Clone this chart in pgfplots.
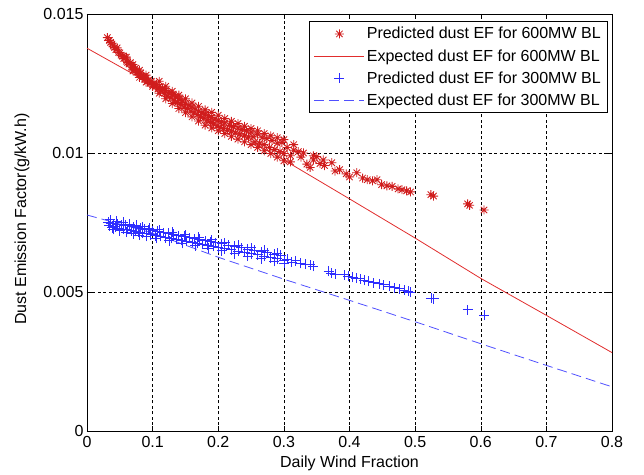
\documentclass[border=0pt]{standalone}
\usepackage{fontspec}
\setmainfont{Liberation Sans}
\usepackage{pgfplots}
\pgfplotsset{compat=1.18}
\definecolor{rstar}{RGB}{208,28,28}
\definecolor{rline}{RGB}{225,45,45}
\definecolor{bplus}{RGB}{45,45,255}
\definecolor{bline}{RGB}{80,80,255}
\pgfdeclareplotmark{mstar}{%
  \pgfpathmoveto{\pgfqpoint{-\pgfplotmarksize}{0pt}}\pgfpathlineto{\pgfqpoint{\pgfplotmarksize}{0pt}}%
  \pgfpathmoveto{\pgfqpoint{0pt}{-\pgfplotmarksize}}\pgfpathlineto{\pgfqpoint{0pt}{\pgfplotmarksize}}%
  \pgfpathmoveto{\pgfqpoint{-.707\pgfplotmarksize}{-.707\pgfplotmarksize}}\pgfpathlineto{\pgfqpoint{.707\pgfplotmarksize}{.707\pgfplotmarksize}}%
  \pgfpathmoveto{\pgfqpoint{-.707\pgfplotmarksize}{.707\pgfplotmarksize}}\pgfpathlineto{\pgfqpoint{.707\pgfplotmarksize}{-.707\pgfplotmarksize}}%
  \pgfusepathqstroke}
\pgfdeclareplotmark{mplus}{%
  \pgfpathmoveto{\pgfqpoint{-\pgfplotmarksize}{0pt}}\pgfpathlineto{\pgfqpoint{\pgfplotmarksize}{0pt}}%
  \pgfpathmoveto{\pgfqpoint{0pt}{-\pgfplotmarksize}}\pgfpathlineto{\pgfqpoint{0pt}{\pgfplotmarksize}}%
  \pgfusepathqstroke}
\begin{document}
\begin{tikzpicture}[font=\fontsize{16bp}{19bp}\selectfont]
\path[use as bounding box] (-87bp,-44bp) rectangle (557bp,431bp);
\begin{axis}[
  width=525bp, height=417bp, scale only axis,
  xmin=0, xmax=0.8, ymin=0, ymax=0.015,
  xtick={0,0.1,0.2,0.3,0.4,0.5,0.6,0.7,0.8},
  xticklabels={0,0.1,0.2,0.3,0.4,0.5,0.6,0.7,0.8},
  ytick={0,0.005,0.01,0.015},
  yticklabels={0,0.005,0.01,0.015},
  scaled y ticks=false,
  xticklabel style={yshift=-2bp},
  tick align=inside,
  major tick length=5bp,
  tick style={black, line width=0.5bp},
  axis line style={black, line width=0.6bp},
  grid=major,
  grid style={black, line width=0.5bp, dash pattern=on 3bp off 2.5bp},
  xlabel={Daily Wind Fraction},
  ylabel={Dust Emission Factor(g/kW.h)},
  every axis x label/.style={at={(axis description cs:0.5,-0.077)}, anchor=center},
  every axis y label/.style={at={(axis description cs:-0.124,0.508)}, rotate=90, anchor=center},
  legend style={at={(axis description cs:0.9924,0.983)}, anchor=north east,
    draw=black, line width=0.6bp, inner xsep=5bp, inner ysep=4bp,
    row sep=5bp, nodes={inner sep=2bp}},
  legend cell align=left,
  legend image code/.code={\draw[mark repeat=2,mark phase=2,#1] plot coordinates {(0bp,0bp) (25bp,0bp) (50bp,0bp)};},
]
\addplot[only marks, mark=mstar, mark size=4.5bp, draw=rstar, mark options={draw=rstar, line width=0.85bp}] coordinates {
(0.031,0.01415)(0.034,0.01405)(0.036,0.01398)(0.038,0.01392)(0.040,0.01385)(0.042,0.01380)(0.044,0.01372)(0.046,0.01378)
(0.048,0.01362)(0.050,0.01360)(0.052,0.01352)(0.054,0.01348)(0.056,0.01340)(0.058,0.01345)(0.060,0.01330)(0.062,0.01326)
(0.064,0.01320)(0.066,0.01325)(0.068,0.01310)(0.070,0.01308)(0.072,0.01300)(0.074,0.01305)(0.076,0.01290)(0.078,0.01292)
(0.080,0.01282)(0.082,0.01288)(0.084,0.01272)(0.086,0.01276)(0.088,0.01265)(0.090,0.01270)(0.092,0.01258)(0.094,0.01262)
(0.096,0.01250)(0.098,0.01258)(0.100,0.01245)(0.102,0.01252)(0.104,0.01238)(0.106,0.01246)(0.108,0.01230)(0.110,0.01238)
(0.112,0.01222)(0.115,0.01232)(0.118,0.01215)(0.120,0.01225)(0.122,0.01205)(0.125,0.01218)(0.128,0.01198)(0.130,0.01210)
(0.133,0.01190)(0.135,0.01202)(0.138,0.01182)(0.140,0.01195)(0.143,0.01175)(0.145,0.01188)(0.148,0.01165)(0.150,0.01180)
(0.153,0.01160)(0.155,0.01172)(0.158,0.01150)(0.160,0.01165)(0.163,0.01145)(0.165,0.01158)(0.168,0.01138)(0.170,0.01150)
(0.173,0.01130)(0.175,0.01145)(0.178,0.01125)(0.180,0.01140)(0.183,0.01118)(0.185,0.01135)(0.188,0.01110)(0.190,0.01128)
(0.193,0.01105)(0.195,0.01122)(0.198,0.01098)(0.200,0.01118)(0.203,0.01092)(0.205,0.01112)(0.208,0.01088)(0.210,0.01108)
(0.214,0.01082)(0.217,0.01100)(0.220,0.01078)(0.223,0.01095)(0.226,0.01072)(0.230,0.01090)(0.233,0.01068)(0.236,0.01085)
(0.240,0.01062)(0.243,0.01080)(0.246,0.01058)(0.250,0.01075)(0.253,0.01058)(0.256,0.01040)(0.260,0.01068)(0.263,0.01035)
(0.267,0.01055)(0.270,0.01030)(0.274,0.01052)(0.278,0.01020)(0.282,0.01045)(0.286,0.01012)(0.290,0.01035)(0.294,0.01005)
(0.297,0.01038)(0.300,0.00998)(0.305,0.01020)(0.310,0.00990)(0.315,0.01010)(0.322,0.01005)(0.326,0.00985)(0.335,0.00960)
(0.340,0.00948)(0.345,0.00975)(0.350,0.00987)(0.355,0.00962)(0.362,0.00955)(0.373,0.00965)(0.378,0.00935)(0.385,0.00940)
(0.395,0.00925)(0.400,0.00914)(0.411,0.00929)(0.420,0.00910)(0.427,0.00904)(0.435,0.00900)(0.442,0.00904)(0.449,0.00886)
(0.457,0.00882)(0.465,0.00880)(0.474,0.00871)(0.480,0.00868)(0.487,0.00864)(0.493,0.00860)(0.524,0.00850)(0.528,0.00845)
(0.580,0.00817)(0.583,0.00812)(0.605,0.00795)
(0.060,0.01345)(0.070,0.01318)(0.080,0.01298)(0.090,0.01280)(0.070,0.01295)(0.080,0.01272)(0.090,0.01255)(0.100,0.01240)
(0.110,0.01258)(0.120,0.01240)(0.130,0.01222)(0.140,0.01208)(0.150,0.01195)(0.160,0.01180)(0.170,0.01168)(0.180,0.01155)
(0.190,0.01146)(0.200,0.01136)(0.110,0.01215)(0.120,0.01195)(0.130,0.01178)(0.140,0.01160)(0.150,0.01145)(0.160,0.01130)
(0.170,0.01115)(0.180,0.01100)(0.190,0.01090)(0.200,0.01080)(0.210,0.01070)(0.220,0.01060)(0.230,0.01050)(0.240,0.01040)
(0.250,0.01030)(0.260,0.01020)(0.270,0.01008)(0.280,0.00998)(0.290,0.00985)(0.300,0.00972)(0.310,0.00968)
(0.210,0.01124)(0.220,0.01114)(0.230,0.01106)(0.240,0.01096)(0.250,0.01088)(0.260,0.01080)(0.270,0.01070)(0.280,0.01062)
(0.290,0.01055)(0.300,0.01048)(0.315,0.01030)(0.330,0.01000)(0.345,0.00990)(0.360,0.00975)
};
\addlegendentry{Predicted dust EF for 600MW BL}
\addplot[draw=rline, line width=0.8bp, no marks] coordinates {
(0,0.01377)(0.1,0.01245)(0.2,0.0111)(0.3,0.00975)(0.4,0.00835)(0.5,0.00694)(0.6,0.00549)(0.7,0.00416)(0.8,0.00282)
};
\addlegendentry{Expected dust EF for 600MW BL}
\addplot[only marks, mark=mplus, mark size=5bp, draw=bplus, mark options={draw=bplus, line width=0.75bp}] coordinates {
(0.032,0.00752)(0.034,0.00738)(0.036,0.00748)(0.038,0.00732)(0.040,0.00746)(0.043,0.00735)(0.046,0.00744)(0.049,0.00728)
(0.052,0.00742)(0.055,0.00726)(0.058,0.00740)(0.061,0.00725)(0.064,0.00738)(0.067,0.00721)(0.070,0.00735)(0.073,0.00718)
(0.076,0.00732)(0.079,0.00715)(0.082,0.00730)(0.085,0.00712)(0.088,0.00726)(0.091,0.00710)(0.094,0.00724)(0.097,0.00706)
(0.100,0.00721)(0.104,0.00703)(0.108,0.00718)(0.112,0.00700)(0.116,0.00714)(0.120,0.00696)(0.124,0.00711)(0.128,0.00693)
(0.132,0.00707)(0.136,0.00689)(0.140,0.00703)(0.144,0.00686)(0.148,0.00700)(0.152,0.00682)(0.156,0.00696)(0.160,0.00679)
(0.164,0.00692)(0.168,0.00675)(0.172,0.00689)(0.176,0.00671)(0.180,0.00685)(0.184,0.00668)(0.188,0.00681)(0.192,0.00664)
(0.196,0.00678)(0.200,0.00660)(0.205,0.00674)(0.210,0.00656)(0.215,0.00669)(0.220,0.00652)(0.225,0.00665)(0.230,0.00647)
(0.235,0.00660)(0.240,0.00643)(0.245,0.00655)(0.250,0.00638)(0.255,0.00650)(0.260,0.00634)(0.265,0.00645)(0.270,0.00629)
(0.275,0.00641)(0.280,0.00624)(0.285,0.00636)(0.290,0.00620)(0.295,0.00632)(0.300,0.00615)
(0.305,0.00618)(0.312,0.00608)(0.318,0.00612)(0.325,0.00603)(0.332,0.00600)(0.340,0.00598)(0.345,0.00592)(0.368,0.00574)
(0.372,0.00568)(0.378,0.00565)(0.392,0.00562)(0.398,0.00556)(0.405,0.00553)(0.410,0.00550)(0.416,0.00548)(0.422,0.00542)
(0.428,0.00538)(0.437,0.00533)(0.445,0.00530)(0.452,0.00526)(0.460,0.00522)(0.468,0.00516)(0.476,0.00512)(0.483,0.00507)
(0.489,0.00503)(0.492,0.00499)(0.524,0.00478)(0.528,0.00476)(0.580,0.00437)(0.605,0.00416)
(0.035,0.00760)(0.045,0.00755)(0.055,0.00750)(0.065,0.00745)(0.075,0.00740)(0.085,0.00735)(0.095,0.00730)(0.110,0.00724)
(0.130,0.00716)(0.150,0.00706)(0.170,0.00697)(0.190,0.00688)(0.210,0.00678)(0.230,0.00669)(0.250,0.00660)(0.270,0.00651)
(0.290,0.00640)(0.040,0.00725)(0.050,0.00720)(0.060,0.00715)(0.070,0.00710)(0.080,0.00705)(0.090,0.00700)(0.105,0.00693)
(0.125,0.00685)(0.145,0.00675)(0.165,0.00666)(0.185,0.00657)(0.205,0.00648)(0.225,0.00638)(0.245,0.00629)(0.265,0.00620)
(0.285,0.00610)(0.300,0.00604)
};
\addlegendentry{Predicted dust EF for 300MW BL}
\addplot[draw=bline, line width=0.8bp, no marks, dash pattern=on 10bp off 5bp] coordinates {
(0,0.00777)(0.1,0.00712)(0.2,0.00625)(0.3,0.00546)(0.4,0.0047)(0.5,0.00393)(0.6,0.00314)(0.7,0.00236)(0.8,0.00159)
};
\addlegendentry{Expected dust EF for 300MW BL}
\end{axis}
\end{tikzpicture}
\end{document}
